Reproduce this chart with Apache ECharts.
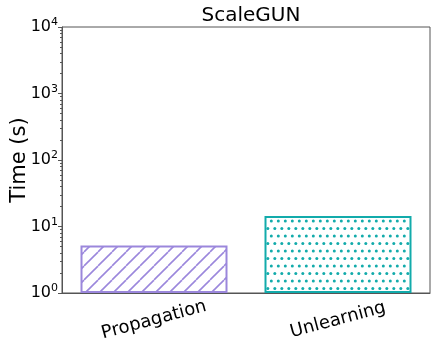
<!DOCTYPE html>
<html>
<head>
<meta charset="utf-8">
<script src="https://cdn.jsdelivr.net/npm/echarts@6/dist/echarts.min.js"></script>
<style>
  html, body { margin: 0; padding: 0; background: #fff; }
  #main { width: 436px; height: 349px; }
</style>
</head>
<body>
<div id="main"></div>
<script>
  // data
  var categories = ['Propagation', 'Unlearning'];
  var times = [5.2, 14.4];
  var majorTicks = [1, 10, 100, 1000, 10000];
  var minorTicks = [];
  for (var d = 1; d < 10000; d *= 10) {
    for (var m = 2; m <= 9; m++) minorTicks.push(m * d);
  }

  var purple = '#9b87dc';
  var teal = '#12abab';
  var font = 'DejaVu Sans';

  // hatch "/" tile
  function hatchTile() {
    var s = 14;
    var c = document.createElement('canvas');
    c.width = s; c.height = s;
    var ctx = c.getContext('2d');
    ctx.fillStyle = '#fff';
    ctx.fillRect(0, 0, s, s);
    ctx.strokeStyle = purple;
    ctx.lineWidth = 1.6;
    for (var k = -1; k <= 1; k++) {
      ctx.beginPath();
      ctx.moveTo(k * s, s);
      ctx.lineTo(k * s + s, 0);
      ctx.stroke();
    }
    return c;
  }
  // dots tile
  function dotTile() {
    var c = document.createElement('canvas');
    c.width = 7; c.height = 15;
    var ctx = c.getContext('2d');
    ctx.fillStyle = '#fff';
    ctx.fillRect(0, 0, 7, 15);
    ctx.fillStyle = teal;
    [[1.8, 3.5], [5.3, 11]].forEach(function (p) {
      ctx.beginPath();
      ctx.arc(p[0], p[1], 1.5, 0, Math.PI * 2);
      ctx.fill();
    });
    return c;
  }

  var myChart = echarts.init(document.getElementById('main'));
  var option = {
    animation: false,
    textStyle: { fontFamily: font },
    title: {
      text: 'ScaleGUN',
      left: 246, top: 1,
      textAlign: 'center',
      textStyle: { fontFamily: font, fontSize: 20, fontWeight: 'normal', color: '#000' }
    },
    grid: {
      left: 62, right: 6, top: 27, bottom: 56,
      containLabel: false,
      outerBoundsMode: 'none',
      show: true, borderColor: '#555', borderWidth: 1
    },
    xAxis: {
      type: 'category',
      data: categories,
      axisLine: { lineStyle: { color: '#555' } },
      axisTick: { alignWithLabel: true, length: 3, lineStyle: { color: '#555' } },
      axisLabel: {
        rotate: 15, align: 'center', verticalAlign: 'middle', margin: 27,
        fontFamily: font, fontSize: 18, color: '#000'
      }
    },
    yAxis: [{
      type: 'log',
      logBase: 10,
      min: 1, max: 10000,
      name: 'Time (s)',
      nameLocation: 'middle',
      nameGap: 32,
      nameMoveOverlap: false,
      nameTextStyle: { fontFamily: font, fontSize: 21, color: '#000' },
      axisLine: { show: true, lineStyle: { color: '#555' } },
      axisTick: { show: true, length: 4, customValues: majorTicks, lineStyle: { color: '#555' } },
      splitLine: { show: false },
      axisLabel: {
        margin: 4,
        customValues: majorTicks,
        formatter: function (v) {
          return '{b|10}{sup|' + Math.round(Math.log10(v)) + '}';
        },
        rich: {
          b: { fontFamily: font, fontSize: 16, lineHeight: 20, color: '#000' },
          sup: { fontFamily: font, fontSize: 11, lineHeight: 11, verticalAlign: 'top', color: '#000' }
        }
      }
    }, {
      type: 'log',
      logBase: 10,
      min: 1, max: 10000,
      position: 'left',
      offset: 0,
      axisLine: { show: false },
      axisTick: { show: true, length: 2, customValues: minorTicks, lineStyle: { color: '#555' } },
      axisLabel: { show: false },
      splitLine: { show: false }
    }],
    series: [{
      type: 'bar',
      barWidth: 147,
      data: [
        { value: times[0], itemStyle: { color: { image: hatchTile(), repeat: 'repeat' }, borderColor: purple, borderWidth: 2 } },
        { value: times[1], itemStyle: { color: { image: dotTile(), repeat: 'repeat' }, borderColor: teal, borderWidth: 2 } }
      ]
    }]
  };
  myChart.setOption(option);
</script>
</body>
</html>
